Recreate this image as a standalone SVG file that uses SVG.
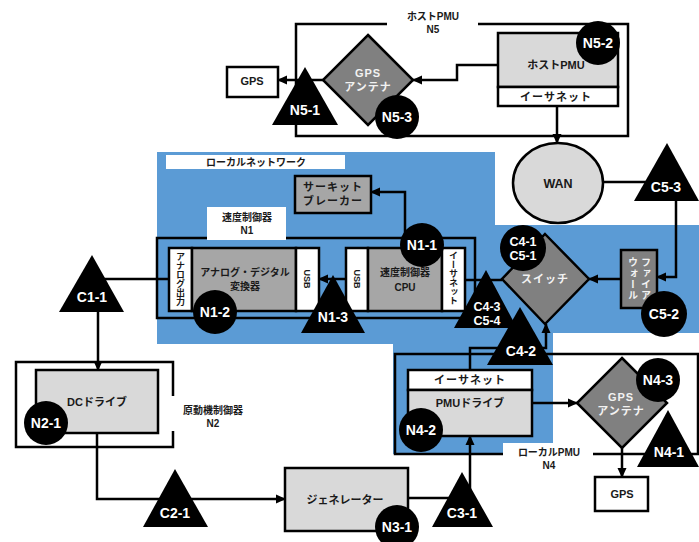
<svg xmlns="http://www.w3.org/2000/svg" width="699" height="542" viewBox="0 0 699 542">
<defs>
  <marker id="arrow" viewBox="0 0 10 10" refX="9" refY="5" markerWidth="4" markerHeight="4" orient="auto" markerUnits="strokeWidth">
    <path d="M0,0.5 L10,5 L0,9.5 z" fill="#000"/>
  </marker>
</defs>
<style>
  .box { stroke:#000; stroke-width:2.5; }
  .wire { fill:none; stroke:#000; stroke-width:2.5; }
  .flow { fill:none; stroke:#000; stroke-width:2.5; marker-end:url(#arrow); }
  .white { fill:#fff; }
  .light { fill:#d9d9d9; }
  .mid { fill:#a6a6a6; }
  .dark { fill:#808080; }
  .mark { fill:#000; }
  .lan { fill:#5b9bd5; }
  text { font-family:"Liberation Sans","Noto Sans CJK JP",sans-serif; font-weight:bold; text-anchor:middle; }
  .lbl { font-size:11px; fill:#1a1a1a; }
  .sm { font-size:10px; fill:#1a1a1a; }
  .inv { font-size:11px; fill:#f2f2f2; letter-spacing:1px; }
  .tag { font-size:14px; fill:#fff; }
  .tag2 { font-size:12.5px; fill:#fff; }
  .vert { writing-mode:vertical-rl; font-size:9px; fill:#1a1a1a; }
  .vinv { writing-mode:vertical-rl; font-size:10px; fill:#f2f2f2; letter-spacing:1px; }
</style>

<!-- local network background -->
<g id="local-network">
  <path class="lan" d="M157,152 H495 V225 H699 V333 H553 V454 H393 V344 H157 Z"/>
  <rect class="white" x="166" y="155" width="179" height="14"/>
  <text class="sm" x="256" y="166">ローカルネットワーク</text>
</g>

<!-- container outlines -->
<g id="N5">
  <path class="wire" d="M387,24 H296 V136 H628 V24 H478"/>
  <text class="sm" x="433" y="20">ホストPMU</text>
  <text class="sm" x="433" y="33">N5</text>
</g>
<g id="N1">
  <rect class="wire" x="157" y="238" width="318" height="80"/>
  <rect class="white" x="207" y="207" width="79" height="33"/>
  <text class="sm" x="247" y="221">速度制御器</text>
  <text class="sm" x="247" y="234">N1</text>
</g>
<g id="N2">
  <path class="wire" d="M173,396 V362 H16 V447 H173 V431"/>
  <text class="sm" x="213" y="414">原動機制御器</text>
  <text class="sm" x="213" y="427">N2</text>
</g>
<g id="N4">
  <rect class="wire" x="395" y="354" width="303" height="100"/>
  <rect class="white" x="503" y="443" width="90" height="34"/>
  <text class="sm" x="549" y="456">ローカルPMU</text>
  <text class="sm" x="549" y="469">N4</text>
</g>

<!-- connectors -->
<g id="connectors">
  <path class="flow" d="M498,65 H457 V80 H413"/>
  <path class="flow" d="M324,80 H278"/>
  <path class="flow" d="M557,106 V143"/>
  <path class="flow" d="M603,182 H676 V277 H657"/>
  <path class="flow" d="M621,279 H589"/>
  <path class="wire" d="M465,280 H502"/>
  <path class="flow" d="M346,279 H319"/>
  <path class="flow" d="M405,240 V192 H371"/>
  <path class="flow" d="M169,279 H98 V370"/>
  <path class="flow" d="M97,433 V499 H285"/>
  <path class="flow" d="M408,498 H470 V436"/>
  <path class="flow" d="M470,370 V348 H546 V324"/>
  <path class="flow" d="M532,403 H577"/>
  <path class="flow" d="M622,448 V477"/>
</g>

<!-- host PMU side -->
<g id="host-pmu">
  <rect class="box light" x="498" y="33" width="120" height="54"/>
  <text class="lbl" x="556" y="69">ホストPMU</text>
</g>
<g id="host-ethernet">
  <rect class="box white" x="498" y="87" width="120" height="19"/>
  <text class="lbl" x="556" y="101" style="letter-spacing:1px">イーサネット</text>
</g>
<g id="host-gps-antenna">
  <path class="box dark" d="M368,35 L413,80 L368,125 L323,80 Z"/>
  <text class="inv" x="368" y="77">GPS</text>
  <text class="inv" x="368" y="91">アンテナ</text>
</g>
<g id="host-gps">
  <rect class="box white" x="227" y="67" width="51" height="30"/>
  <text class="lbl" x="252" y="85">GPS</text>
</g>
<g id="wan">
  <ellipse class="box light" cx="558" cy="183" rx="45" ry="40"/>
  <text x="558" y="188" style="font-size:12.5px;fill:#1a1a1a">WAN</text>
</g>

<!-- local network devices -->
<g id="circuit-breaker">
  <rect class="box mid" x="295" y="176" width="76" height="37"/>
  <text class="lbl" x="333" y="191" style="letter-spacing:1px">サーキット</text>
  <text class="lbl" x="333" y="205" style="letter-spacing:1px">ブレーカー</text>
</g>
<g id="adc">
  <rect class="box white" x="169" y="248" width="23" height="63"/>
  <text class="vert" x="180" y="279">アナログ出力</text>
  <rect class="box mid" x="192" y="248" width="104" height="63"/>
  <text class="sm" x="245" y="276">アナログ・デジタル</text>
  <text class="sm" x="245" y="290">変換器</text>
  <rect class="box white" x="296" y="248" width="23" height="63"/>
  <text class="vert" x="307" y="279">USB</text>
</g>
<g id="cpu">
  <rect class="box white" x="346" y="248" width="22" height="63"/>
  <text class="vert" x="357" y="279">USB</text>
  <rect class="box mid" x="368" y="248" width="74" height="63"/>
  <text class="sm" x="405" y="276">速度制御器</text>
  <text class="sm" x="405" y="291">CPU</text>
  <rect class="box white" x="442" y="248" width="23" height="63"/>
  <text class="vert" x="453" y="278">イーサネット</text>
</g>
<g id="switch">
  <path class="box dark" d="M545,234 L589,279 L545,324 L502,279 Z"/>
  <text class="inv" x="545" y="283">スイッチ</text>
</g>
<g id="firewall">
  <rect class="box dark" x="621" y="250" width="36" height="58"/>
  <text class="vinv" x="645" y="279">ファイア</text>
  <text class="vinv" x="632" y="279">ウォール</text>
</g>

<!-- prime mover and generator -->
<g id="dc-drive">
  <rect class="box light" x="36" y="370" width="122" height="63"/>
  <text class="lbl" x="97" y="406">DCドライブ</text>
</g>
<g id="generator">
  <rect class="box light" x="285" y="468" width="123" height="63"/>
  <text class="lbl" x="345" y="504">ジェネレーター</text>
</g>

<!-- local PMU devices -->
<g id="pmu-ethernet">
  <rect class="box white" x="408" y="370" width="124" height="20"/>
  <text class="lbl" x="470" y="384" style="letter-spacing:1px">イーサネット</text>
</g>
<g id="pmu-drive">
  <rect class="box light" x="408" y="390" width="124" height="46"/>
  <text class="lbl" x="470" y="407">PMUドライブ</text>
</g>
<g id="local-gps-antenna">
  <path class="box dark" d="M622,358 L667,403 L622,448 L577,403 Z"/>
  <text class="inv" x="621" y="401">GPS</text>
  <text class="inv" x="621" y="415">アンテナ</text>
</g>
<g id="local-gps">
  <rect class="box white" x="595" y="477" width="53" height="34"/>
  <text class="lbl" x="622" y="498">GPS</text>
</g>

<!-- circle markers -->
<g id="N5-2"><circle class="mark" cx="598" cy="43" r="22"/><text class="tag" x="598" y="48">N5-2</text></g>
<g id="N5-3"><circle class="mark" cx="397" cy="117" r="22"/><text class="tag" x="397" y="122">N5-3</text></g>
<g id="N1-1"><circle class="mark" cx="422" cy="245" r="22"/><text class="tag" x="422" y="250">N1-1</text></g>
<g id="N1-2"><circle class="mark" cx="215" cy="312" r="22"/><text class="tag" x="215" y="317">N1-2</text></g>
<g id="C4-1"><circle class="mark" cx="523" cy="248" r="23"/><text class="tag2" x="523" y="246">C4-1</text><text class="tag2" x="523" y="260">C5-1</text></g>
<g id="C5-2"><circle class="mark" cx="664" cy="314" r="23"/><text class="tag" x="664" y="319">C5-2</text></g>
<g id="N2-1"><circle class="mark" cx="46" cy="423" r="22"/><text class="tag" x="46" y="428">N2-1</text></g>
<g id="N3-1"><circle class="mark" cx="397" cy="527" r="22"/><text class="tag" x="397" y="532">N3-1</text></g>
<g id="N4-2"><circle class="mark" cx="421" cy="430" r="22"/><text class="tag" x="421" y="435">N4-2</text></g>
<g id="N4-3"><circle class="mark" cx="658" cy="380" r="22"/><text class="tag" x="658" y="385">N4-3</text></g>

<!-- triangle markers -->
<g id="N5-1"><path class="mark" d="M305,67 L338,125 L272,125 Z"/><text class="tag" x="305" y="115">N5-1</text></g>
<g id="C5-3"><path class="mark" d="M667,143 L699,201 L634,201 Z"/><text class="tag" x="666" y="192">C5-3</text></g>
<g id="N1-3"><path class="mark" d="M333,275 L365,333 L301,333 Z"/><text class="tag" x="333" y="322">N1-3</text></g>
<g id="C4-3"><path class="mark" d="M486,270 L517,328 L454,328 Z"/><text class="tag2" x="487" y="311">C4-3</text><text class="tag2" x="487" y="325">C5-4</text></g>
<g id="C4-2"><path class="mark" d="M520,307 L553,365 L487,365 Z"/><text class="tag" x="521" y="356">C4-2</text></g>
<g id="C1-1"><path class="mark" d="M92,255 L124,312 L59,312 Z"/><text class="tag" x="92" y="302">C1-1</text></g>
<g id="C2-1"><path class="mark" d="M175,469 L208,527 L143,527 Z"/><text class="tag" x="175" y="518">C2-1</text></g>
<g id="C3-1"><path class="mark" d="M462,472 L493,527 L432,527 Z"/><text class="tag" x="462" y="518">C3-1</text></g>
<g id="N4-1"><path class="mark" d="M668,410 L699,467 L637,467 Z"/><text class="tag" x="669" y="457">N4-1</text></g>
</svg>
